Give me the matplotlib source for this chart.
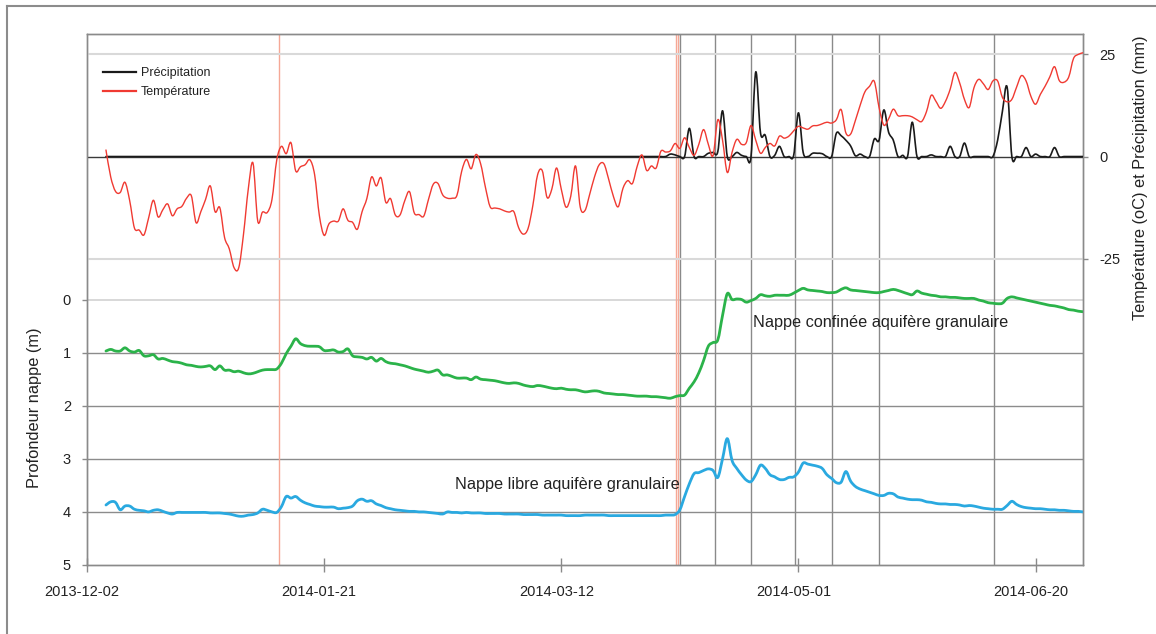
import numpy as np
import pandas as pd
import matplotlib
matplotlib.use("Agg")
import matplotlib.pyplot as plt
import matplotlib.dates as mdates
import matplotlib.transforms as mtransforms
from matplotlib.lines import Line2D
from matplotlib.path import Path
from matplotlib.patches import PathPatch

plt.rcParams['font.family'] = ['Liberation Sans', 'DejaVu Sans']
plt.rcParams['axes.unicode_minus'] = False

# Daily series, 2013-12-06 .. 2014-06-30
dates = pd.date_range('2013-12-06', '2014-06-30', freq='D')

# Air temperature (oC)
temperature = [
    1.6, -5.0, -8.5, -8.8, -6.3, -10.8, -17.5, -18.0, -19.2, -15.0,
    -10.7, -14.8, -13.0, -11.6, -14.5, -12.8, -12.2, -10.2, -9.6, -16.2,
    -13.5, -10.5, -7.2, -13.5, -12.5, -19.8, -22.6, -27.2, -27.2, -19.0,
    -8.0, -1.6, -15.8, -13.6, -13.7, -10.5, -0.9, 2.5, 0.7, 3.4,
    -3.5, -2.5, -2.0, -0.8, -4.5, -14.5, -19.3, -16.5, -15.8, -15.8,
    -12.8, -15.6, -16.1, -17.8, -13.5, -10.3, -5.0, -7.2, -5.2, -11.2,
    -10.3, -14.3, -14.3, -10.8, -8.6, -13.8, -14.2, -14.6, -10.5, -6.8,
    -6.6, -9.4, -10.2, -10.2, -9.5, -3.6, -0.7, -3.0, 0.5, -1.8,
    -7.5, -12.3, -12.6, -12.8, -13.3, -13.6, -13.5, -17.4, -19.0, -17.6,
    -12.0, -4.5, -3.5, -10.0, -8.0, -2.8, -8.0, -12.4, -9.7, -2.3,
    -12.4, -13.2, -9.2, -5.0, -2.0, -1.8, -5.6, -9.8, -12.3, -7.8,
    -5.9, -6.6, -2.4, 0.4, -3.4, -2.3, -2.8, 1.3, 1.1, 1.4,
    3.2, 2.0, 4.6, 2.2, 0.3, 3.0, 6.6, 3.0, 0.2, 9.0,
    4.0, -3.9, 1.0, 4.2, 3.0, 3.4, 7.6, 4.0, 0.8, 2.2,
    3.2, 2.6, 5.0, 4.5, 5.0, 6.3, 7.4, 7.0, 6.7, 7.5,
    7.6, 8.0, 8.4, 8.2, 9.0, 11.5, 5.8, 5.5, 8.8, 12.5,
    15.8, 17.2, 18.4, 12.0, 7.7, 9.2, 11.6, 10.0, 10.0, 10.0,
    9.7, 9.0, 8.6, 11.0, 15.0, 13.5, 11.8, 13.5, 16.5, 20.6,
    18.0, 14.0, 12.0, 16.8, 18.9, 17.8, 16.4, 18.5, 18.5, 14.5,
    13.4, 14.0, 17.0, 19.8, 18.5, 14.8, 12.8, 15.2, 17.2, 19.5,
    22.0, 18.6, 18.2, 19.5, 24.0, 25.0, 25.4,
]

# Precipitation (mm): dry until 2014-04-03
precipitation = [0.0] * 119 + [
    0.6, 0.4, 0, 0, 6.9, 0, 0, 0, 0.8, 1.0,
    1.2, 11.2, 0, 0, 1.0, 0.3, 0, 0, 20.7, 5.8,
    5.2, 0, 0.3, 2.5, 0, 0, 0.3, 10.7, 1.0, 0,
    0.8, 0.8, 0.7, 0, 0, 5.7, 5.1, 4.0, 2.6, 0.2,
    0.6, 0, 0, 4.3, 4.0, 11.4, 6.0, 4.0, 0, 0.3,
    0, 8.4, 0, 0, 0, 0.4, 0, 0, 0, 2.5,
    0, 0, 3.3, 0, 0, 0, 0, 0, 0, 4.0,
    11.0, 17.0, 0, 0, 0, 2.2, 0, 0.6, 0, 0,
    0, 2.2, 0, 0, 0, 0, 0, 0,
]

# Water-table depth (m), confined granular aquifer
nappe_confinee = [
    0.97, 0.94, 0.97, 0.97, 0.91, 0.97, 0.99, 0.96, 1.06, 1.06,
    1.04, 1.12, 1.11, 1.14, 1.17, 1.18, 1.20, 1.23, 1.24, 1.26,
    1.27, 1.26, 1.25, 1.32, 1.25, 1.33, 1.33, 1.36, 1.35, 1.38,
    1.40, 1.39, 1.36, 1.33, 1.32, 1.32, 1.31, 1.20, 1.02, 0.88,
    0.74, 0.83, 0.87, 0.88, 0.88, 0.89, 0.96, 0.96, 0.95, 0.99,
    0.98, 0.93, 1.06, 1.08, 1.09, 1.12, 1.09, 1.16, 1.11, 1.17,
    1.20, 1.21, 1.23, 1.25, 1.28, 1.31, 1.33, 1.35, 1.37, 1.35,
    1.33, 1.42, 1.42, 1.45, 1.48, 1.48, 1.48, 1.51, 1.46, 1.50,
    1.51, 1.52, 1.53, 1.55, 1.57, 1.58, 1.57, 1.58, 1.61, 1.63,
    1.64, 1.62, 1.63, 1.65, 1.67, 1.68, 1.67, 1.69, 1.70, 1.70,
    1.72, 1.74, 1.73, 1.72, 1.73, 1.76, 1.77, 1.78, 1.79, 1.79,
    1.80, 1.81, 1.82, 1.82, 1.82, 1.83, 1.83, 1.84, 1.85, 1.86,
    1.83, 1.81, 1.80, 1.67, 1.55, 1.38, 1.15, 0.88, 0.81, 0.76,
    0.30, -0.11, 0.00, -0.01, 0.00, 0.05, 0.02, -0.02, -0.09, -0.07,
    -0.06, -0.08, -0.08, -0.08, -0.08, -0.12, -0.17, -0.21, -0.18, -0.17,
    -0.16, -0.15, -0.13, -0.13, -0.14, -0.19, -0.22, -0.18, -0.17, -0.16,
    -0.15, -0.14, -0.13, -0.13, -0.15, -0.17, -0.19, -0.17, -0.14, -0.11,
    -0.09, -0.16, -0.12, -0.10, -0.08, -0.07, -0.05, -0.05, -0.04, -0.04,
    -0.03, -0.02, -0.02, -0.02, 0.01, 0.03, 0.06, 0.07, 0.08, 0.07,
    -0.02, -0.05, -0.03, -0.01, 0.01, 0.03, 0.05, 0.07, 0.09, 0.11,
    0.12, 0.14, 0.16, 0.19, 0.20, 0.22, 0.23,
]

# Water-table depth (m), unconfined granular aquifer
nappe_libre = [
    3.87, 3.81, 3.82, 3.96, 3.89, 3.89, 3.95, 3.97, 3.98, 4.00,
    3.97, 3.96, 3.99, 4.02, 4.04, 4.01, 4.01, 4.01, 4.01, 4.01,
    4.01, 4.01, 4.02, 4.02, 4.02, 4.03, 4.04, 4.06, 4.08, 4.08,
    4.06, 4.05, 4.02, 3.95, 3.97, 4.00, 4.01, 3.90, 3.71, 3.74,
    3.71, 3.78, 3.83, 3.86, 3.89, 3.90, 3.91, 3.91, 3.91, 3.94,
    3.93, 3.92, 3.89, 3.79, 3.76, 3.80, 3.79, 3.85, 3.88, 3.92,
    3.94, 3.96, 3.97, 3.98, 3.99, 3.99, 4.00, 4.00, 4.01, 4.02,
    4.03, 4.04, 4.00, 4.01, 4.01, 4.02, 4.01, 4.02, 4.02, 4.02,
    4.03, 4.03, 4.03, 4.03, 4.04, 4.04, 4.04, 4.04, 4.05, 4.05,
    4.05, 4.05, 4.06, 4.06, 4.06, 4.06, 4.06, 4.07, 4.07, 4.07,
    4.07, 4.06, 4.06, 4.06, 4.06, 4.06, 4.07, 4.07, 4.07, 4.07,
    4.07, 4.07, 4.07, 4.07, 4.07, 4.07, 4.07, 4.07, 4.06, 4.06,
    4.05, 3.96, 3.71, 3.47, 3.28, 3.26, 3.22, 3.19, 3.22, 3.35,
    3.00, 2.62, 3.03, 3.18, 3.30, 3.40, 3.43, 3.30, 3.12, 3.18,
    3.30, 3.34, 3.39, 3.39, 3.35, 3.34, 3.25, 3.08, 3.10, 3.12,
    3.14, 3.18, 3.30, 3.37, 3.45, 3.44, 3.24, 3.42, 3.52, 3.57,
    3.60, 3.63, 3.66, 3.69, 3.69, 3.65, 3.66, 3.72, 3.74, 3.76,
    3.77, 3.77, 3.78, 3.81, 3.82, 3.84, 3.85, 3.85, 3.86, 3.86,
    3.87, 3.89, 3.88, 3.89, 3.91, 3.93, 3.94, 3.95, 3.95, 3.95,
    3.88, 3.80, 3.86, 3.90, 3.92, 3.93, 3.94, 3.94, 3.95, 3.96,
    3.96, 3.97, 3.97, 3.98, 3.99, 3.99, 4.00,
]

# Event markers
events_red = pd.to_datetime(['2014-01-11 12:00', '2014-04-05 03:00', '2014-04-05 14:00'])
events_gray = pd.to_datetime(['2014-04-06 00:00', '2014-04-13 12:00', '2014-04-21 00:00',
                              '2014-04-30 05:00', '2014-05-08 02:00', '2014-05-17 22:00',
                              '2014-06-11 05:00'])

x_ticks = pd.date_range('2013-12-02', periods=5, freq='50D')
depth_ticks = [0, 1, 2, 3, 4, 5]
climate_ticks = [-25, 0, 25]


def smooth_line(ax, x, y, **kw):
    """Draw a smoothed line through every (x, y) sample (Catmull-Rom / Bezier)."""
    xs = mdates.date2num(pd.DatetimeIndex(x).to_pydatetime())
    pts = np.column_stack([xs, np.asarray(y, dtype=float)])
    ext = np.vstack([pts[0], pts, pts[-1]])
    verts = [pts[0]]
    codes = [Path.MOVETO]
    for i in range(len(pts) - 1):
        p0, p1, p2, p3 = ext[i], ext[i + 1], ext[i + 2], ext[i + 3]
        c1 = p1 + (p2 - p0) / 6.0
        c2 = p2 - (p3 - p1) / 6.0
        verts += [c1, c2, p2]
        codes += [Path.CURVE4] * 3
    patch = PathPatch(Path(verts, codes), fill=False, capstyle='round',
                      joinstyle='round', **kw)
    ax.add_patch(patch)
    return patch


W, H = 1156, 634
fig = plt.figure(figsize=(W / 100, H / 100), dpi=100)
ax = fig.add_axes([87 / W, 1 - 565 / H, (1083 - 87) / W, (565 - 34) / H])
ax2 = ax.twinx()

spine_c = '#8a8a8a'
text_c = '#222222'

# depth axis (inverted)
ax.set_ylim(5, -5)
ax.set_yticks(depth_ticks)
ax.set_xlim(pd.Timestamp('2013-12-02'), pd.Timestamp('2014-06-30'))
ax.set_xticks(x_ticks)
ax.xaxis.set_major_formatter(mdates.DateFormatter('%Y-%m-%d'))

for v in depth_ticks[1:-1]:
    ax.axhline(v, color='#8c8c8c', lw=1.0, zorder=1)
ax.axhline(0, color='#d6d6d6', lw=1.3, zorder=1)

for d in events_red:
    ax.axvline(d, color='#f5a896', lw=1.0, zorder=1)
for d in events_gray:
    ax.axvline(d, color='#8a8a8a', lw=1.0, zorder=1)

smooth_line(ax, dates, nappe_confinee, edgecolor='#2bb34a', lw=2.0, zorder=3)
smooth_line(ax, dates, nappe_libre, edgecolor='#2aa9e0', lw=2.0, zorder=3)

ax.text(pd.Timestamp('2014-04-21 12:00'), 0.43, 'Nappe confinée aquifère granulaire',
        fontsize=11.7, color=text_c, va='center', ha='left', zorder=4)
ax.text(pd.Timestamp('2014-02-17 12:00'), 3.49, 'Nappe libre aquifère granulaire',
        fontsize=11.7, color=text_c, va='center', ha='left', zorder=4)

# climate axis
ax2.set_ylim(-100, 30)
ax2.set_yticks(climate_ticks)
for v in (-25, 25):
    ax2.axhline(v, color='#d9d9d9', lw=1.5, zorder=1)
ax2.axhline(0, color='#3a3a3a', lw=1.0, zorder=1)
smooth_line(ax2, dates, precipitation, edgecolor='#1a1a1a', lw=1.2, zorder=3)
smooth_line(ax2, dates, temperature, edgecolor='#f03a32', lw=1.0, zorder=4)

for a in (ax, ax2):
    for s in a.spines.values():
        s.set_color(spine_c)
        s.set_linewidth(1.0)

ax.tick_params(axis='x', direction='inout', length=9.5, width=1, color=spine_c,
               labelsize=10.5, labelcolor=text_c, pad=10)
ax.tick_params(axis='y', direction='out', length=3.6, width=1, color=spine_c,
               labelsize=10.5, labelcolor=text_c, pad=8)
ax2.tick_params(axis='y', direction='out', length=3.6, width=1, color=spine_c,
                labelsize=10.5, labelcolor=text_c, pad=8)

# date labels sit slightly left of their ticks
shift = mtransforms.ScaledTranslation(-5 / 100, 0, fig.dpi_scale_trans)
for lbl in ax.get_xticklabels():
    lbl.set_transform(lbl.get_transform() + shift)

handles = [Line2D([], [], color='#1a1a1a', lw=1.6), Line2D([], [], color='#f03a32', lw=1.6)]
fig.legend(handles, ['Précipitation', 'Température'], loc='upper left',
           bbox_to_anchor=(103 / W, 1 - 67 / H), frameon=False, fontsize=9,
           handlelength=2.6, handletextpad=0.45, labelspacing=0.55, borderaxespad=0,
           borderpad=0, labelcolor=text_c, handleheight=0.7)

fig.text(35 / W, 1 - 408 / H, 'Profondeur nappe (m)', rotation=90, va='center',
         ha='center', fontsize=11.8, color=text_c)
fig.text(1141 / W, 1 - 178 / H, 'Température (oC) et Précipitation (mm)', rotation=90,
         va='center', ha='center', fontsize=11.8, color=text_c)

# outer frame (left and top edges)
fig.add_artist(Line2D([7 / W, 7 / W], [0, 1 - 6 / H], color='#8c8c8c', lw=1.5,
                      transform=fig.transFigure))
fig.add_artist(Line2D([7 / W, 1], [1 - 6 / H, 1 - 6 / H], color='#8c8c8c', lw=1.5,
                      transform=fig.transFigure))

fig.savefig('out.png', dpi=100)
